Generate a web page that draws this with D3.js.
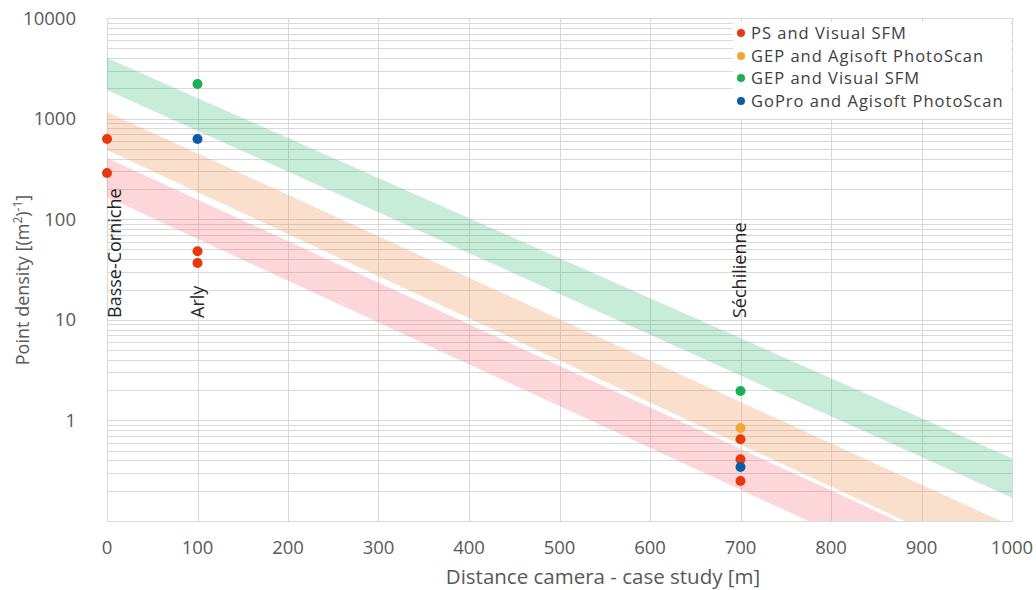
<!DOCTYPE html>
<html><head><meta charset="utf-8">
<script src="https://cdn.jsdelivr.net/npm/d3@7"></script>
<style>body{margin:0;background:#fff} text{font-family:"Open Sans",sans-serif}</style>
</head><body><svg id="c" width="1036" height="590"></svg>
<script>
// ---- data ----
const seriesNames = ["PS and Visual SFM", "GEP and Agisoft PhotoScan", "GEP and Visual SFM", "GoPro and Agisoft PhotoScan"];
const seriesColors = ["#e8380d", "#f0a830", "#1aaf54", "#0b5ca8"];
const psVisualSfm = [[0, 627], [0, 288], [100, 48], [100, 36.7], [700, 0.65], [700, 0.41], [700, 0.25]];
const gepAgisoft = [[700, 0.84]];
const gepVisualSfm = [[100, 2208], [700, 1.96]];
const goproAgisoft = [[100, 627], [700, 0.344]];
const caseStudies = ["Basse-Corniche", "Arly", "Séchilienne"];
const caseDistances = [0, 100, 700];
// bands: [distance, lower, upper]
const greenBand = [[0, 1925, 4000], [1000, 0.17, 0.42]];
const orangeBand = [[0, 488, 1160], [1000, 0.032, 0.089]];
const redBand = [[0, 166, 405], [1000, 0.0116, 0.030]];
const xTicks = [0, 100, 200, 300, 400, 500, 600, 700, 800, 900, 1000];
const yTicks = [1, 10, 100, 1000, 10000];
const xTitle = "Distance camera - case study [m]";

// ---- layout ----
const L = 107, R = 1012, T = 18, B = 521;
const svg = d3.select("#c");
const x = d3.scaleLinear().domain([0, 1000]).range([L, R]);
const y = d3.scaleLog().domain([0.1, 10000]).range([B, T]);

// grid
const minor = [];
for (let e = -1; e < 4; e++) for (let m = 1; m < 10; m++) minor.push(m * Math.pow(10, e));
minor.push(10000);
const g = svg.append("g");
g.selectAll("line.h").data(minor).join("line")
  .attr("x1", L).attr("x2", R).attr("y1", d => Math.round(y(d)) + 0.5).attr("y2", d => Math.round(y(d)) + 0.5)
  .attr("stroke", "#d9d9d9").attr("stroke-width", 1);
g.selectAll("line.v").data(xTicks).join("line")
  .attr("y1", T).attr("y2", B).attr("x1", d => Math.round(x(d)) + 0.5).attr("x2", d => Math.round(x(d)) + 0.5)
  .attr("stroke", "#d9d9d9").attr("stroke-width", 1);
svg.append("rect").attr("x", L + 0.5).attr("y", T + 0.5).attr("width", R - L).attr("height", B - T)
  .attr("fill", "none").attr("stroke", "#d9d9d9");

// bands
svg.append("clipPath").attr("id", "clip").append("rect").attr("x", L).attr("y", T).attr("width", R - L).attr("height", B - T);
const area = d3.area().x(d => x(d[0])).y0(d => y(d[1])).y1(d => y(d[2]));
const bands = [[greenBand, "rgba(30,180,100,0.25)"], [orangeBand, "rgba(240,150,90,0.3)"], [redBand, "rgba(250,120,130,0.3)"]];
svg.append("g").attr("clip-path", "url(#clip)").selectAll("path").data(bands).join("path")
  .attr("d", d => area(d[0])).attr("fill", d => d[1]);

// axes labels
const tickFont = 18.5;
svg.append("g").selectAll("text").data(xTicks).join("text")
  .attr("x", d => x(d)).attr("y", 554).attr("text-anchor", "middle")
  .attr("font-size", tickFont).attr("fill", "#595959").text(d => d);
svg.append("g").selectAll("text").data(yTicks).join("text")
  .attr("x", 76).attr("y", d => y(d) + 6.5).attr("text-anchor", "end")
  .attr("font-size", tickFont).attr("fill", "#595959").text(d => d);

svg.append("text").attr("x", 603).attr("y", 584).attr("text-anchor", "middle")
  .attr("font-size", 20.5).attr("fill", "#595959").text(xTitle);
const yt = svg.append("text").attr("transform", "translate(29,280) rotate(-90)").attr("text-anchor", "middle")
  .attr("font-size", 18).attr("fill", "#595959");
yt.append("tspan").text("Point density [(m");
yt.append("tspan").attr("font-size", 12).attr("dy", -7).text("2");
yt.append("tspan").attr("dy", 7).text(")");
yt.append("tspan").attr("font-size", 12).attr("dy", -7).text("-1");
yt.append("tspan").attr("dy", 7).text("]");

// case study labels
const labelDx = [14, 6, 5];
svg.append("g").selectAll("text").data(caseStudies).join("text")
  .attr("transform", (d, i) => `translate(${x(caseDistances[i]) + labelDx[i]},318) rotate(-90)`)
  .attr("font-size", 18).attr("fill", "#262626").text(d => d);

// points
const allSeries = [psVisualSfm, gepAgisoft, gepVisualSfm, goproAgisoft];
allSeries.forEach((s, i) => {
  svg.append("g").selectAll("circle").data(s).join("circle")
    .attr("cx", d => x(d[0])).attr("cy", d => y(d[1])).attr("r", 5).attr("fill", seriesColors[i]);
});

// legend
const lg = svg.append("g");
lg.append("rect").attr("x", 733).attr("y", 22).attr("width", 278).attr("height", 97).attr("fill", "#fff");
const rows = [33, 56, 78, 101];
seriesNames.forEach((n, i) => {
  lg.append("circle").attr("cx", 741).attr("cy", rows[i]).attr("r", 4).attr("fill", seriesColors[i]);
  lg.append("text").attr("x", 751).attr("y", rows[i] + 6).attr("font-size", 16.5)
    .attr("letter-spacing", 1).attr("fill", "#404040").text(n);
});
</script></body></html>
